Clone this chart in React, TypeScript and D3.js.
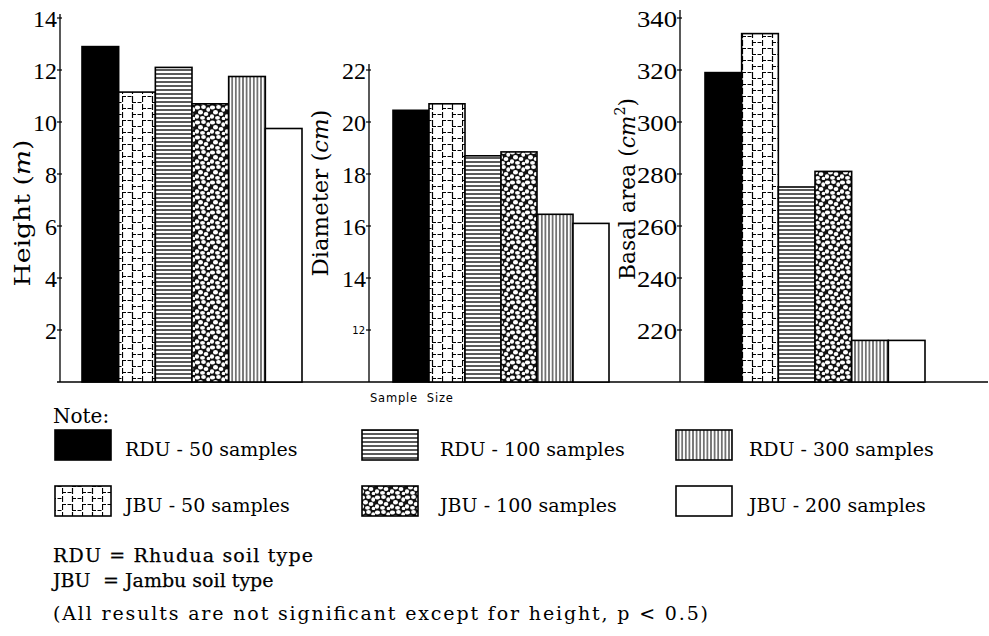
import React from "react";
import * as d3 from "d3";

const categories = [
  "RDU - 50 samples",
  "JBU - 50 samples",
  "RDU - 100 samples",
  "JBU - 100 samples",
  "RDU - 300 samples",
  "JBU - 200 samples",
];
const heightValues = [12.9, 11.15, 12.1, 10.7, 11.75, 9.75];
const diameterValues = [20.45, 20.7, 18.7, 18.85, 16.45, 16.1];
const basalValues = [319, 334, 275, 281, 216, 216];
const heightTicks = [2, 4, 6, 8, 10, 12, 14];
const diameterTicks = [12, 14, 16, 18, 20, 22];
const basalTicks = [220, 240, 260, 280, 300, 320, 340];

const SERIF = "Liberation Serif, serif";
const WIDE = "DejaVu Serif, serif";
const SANS = "DejaVu Sans, sans-serif";

const fills = ["#000", "url(#brick)", "url(#hlines)", "url(#cobble)", "url(#vlines)", "#fff"];

const BASE = 382;

const panels = [
  { values: heightValues, ticks: heightTicks, domain: [0, 14], top: 18, axisX: 60, axisTop: 14, bars: [82, 302], label: ["Height (", "m", ")"], sup: false, labelX: 30, labelY: 213, labelLen: 147, small: [] as number[], tickLen: 0 },
  { values: diameterValues, ticks: diameterTicks, domain: [10, 22], top: 70, axisX: 369, axisTop: 64, bars: [393, 609], label: ["Diameter (", "cm", ")"], sup: false, labelX: 328, labelY: 193, labelLen: 167, small: [12], tickLen: 0 },
  { values: basalValues, ticks: basalTicks, domain: [200, 340], top: 18, axisX: 680, axisTop: 10, bars: [705, 925], label: ["Basal area (", "cm", ")"], sup: true, labelX: 635, labelY: 189, labelLen: 182, small: [] as number[], tickLen: 40 },
];

const cobbleSpots: [number, number, number, number][] = [
  [2.5, 2.5, 2.6, 2.1], [8.5, 2, 2.4, 2.0], [13.2, 4.5, 1.9, 2.2], [5.5, 7.2, 2.5, 2.2],
  [11, 9, 2.4, 2.1], [2, 11.5, 2.1, 2.3], [7.5, 12.8, 2.5, 1.9], [13.5, 13.5, 1.8, 1.7],
];

function Panel({ p }: { p: (typeof panels)[number] }) {
  const y = d3.scaleLinear().domain(p.domain).range([BASE, p.top]);
  const x = d3.scaleBand<string>().domain(categories).range(p.bars as [number, number]).padding(0);
  return (
    <g>
      <line x1={p.axisX} x2={p.axisX} y1={p.axisTop} y2={BASE} stroke="#000" strokeWidth={1.3} />
      {p.ticks.map((t) => (
        <g key={t}>
          <line x1={p.axisX - 3} x2={p.axisX + 2} y1={y(t)} y2={y(t)} stroke="#000" strokeWidth={1.2} />
          {p.small.includes(t) ? (
            <text x={p.axisX - 4} y={y(t)} dy="0.35em" textAnchor="end" fontFamily={SANS} fontSize={10}>{t}</text>
          ) : p.tickLen ? (
            <text x={p.axisX - 3} y={y(t)} dy="0.36em" textAnchor="end" fontFamily={SERIF} fontSize={24}
              textLength={p.tickLen} lengthAdjust="spacingAndGlyphs">{t}</text>
          ) : (
            <text x={p.axisX - 3} y={y(t)} dy="0.36em" textAnchor="end" fontFamily={SERIF} fontSize={24}>{t}</text>
          )}
        </g>
      ))}
      {categories.map((c, i) => (
        <rect key={c} x={x(c)} y={y(p.values[i])} width={x.bandwidth()} height={BASE - y(p.values[i])}
          fill={fills[i]} stroke="#000" strokeWidth={1.6} />
      ))}
      <text transform={`translate(${p.labelX},${p.labelY}) rotate(-90)`} textAnchor="middle" fontFamily={WIDE} fontSize={23}
        textLength={p.labelLen} lengthAdjust="spacingAndGlyphs">
        {p.label[0]}
        <tspan fontStyle="italic">{p.label[1]}</tspan>
        {p.sup ? <tspan fontSize={15} dy={-10}>2</tspan> : null}
        <tspan dy={p.sup ? 10 : 0}>{p.label[2]}</tspan>
      </text>
    </g>
  );
}

const legendColX = [55, 362, 676];
const legendTextX = [125, 440, 749];
const legendRowY = [430, 486];

export default function App() {
  return (
    <svg width={989} height={636} style={{ position: "absolute", left: 0, top: 0, background: "#fff" }}>
      <defs>
        <pattern id="hlines" patternUnits="userSpaceOnUse" width={8} height={4}>
          <rect width={8} height={4} fill="#fff" />
          <line x1={0} x2={8} y1={2} y2={2} stroke="#000" strokeWidth={1.3} />
        </pattern>
        <pattern id="vlines" patternUnits="userSpaceOnUse" width={3.6} height={8}>
          <rect width={3.6} height={8} fill="#fff" />
          <line x1={1.8} x2={1.8} y1={0} y2={8} stroke="#000" strokeWidth={1} />
        </pattern>
        <pattern id="brick" patternUnits="userSpaceOnUse" width={20} height={24} x={2}>
          <rect width={20} height={24} fill="#fff" />
          <line x1={0.5} x2={0.5} y1={0} y2={24} stroke="#000" strokeWidth={1.2} strokeDasharray="6 2" />
          <line x1={10.5} x2={10.5} y1={0} y2={24} stroke="#000" strokeWidth={1.2} strokeDasharray="6 2" />
          <line x1={0} x2={10} y1={0.5} y2={0.5} stroke="#000" strokeWidth={1.1} strokeDasharray="4 1.5" />
          <line x1={0} x2={10} y1={12.5} y2={12.5} stroke="#000" strokeWidth={1.1} strokeDasharray="4 1.5" />
          <line x1={10} x2={20} y1={6.5} y2={6.5} stroke="#000" strokeWidth={1.1} strokeDasharray="4 1.5" />
          <line x1={10} x2={20} y1={18.5} y2={18.5} stroke="#000" strokeWidth={1.1} strokeDasharray="4 1.5" />
        </pattern>
        <pattern id="cobble" patternUnits="userSpaceOnUse" width={15} height={15}>
          <rect width={15} height={15} fill="#111" />
          {cobbleSpots.map((s, i) => (
            <ellipse key={i} cx={s[0]} cy={s[1]} rx={s[2]} ry={s[3]} fill="#fff" />
          ))}
        </pattern>
      </defs>

      <line x1={57} x2={988} y1={BASE} y2={BASE} stroke="#000" strokeWidth={1.5} />
      {panels.map((p, i) => (
        <Panel key={i} p={p} />
      ))}

      <text x={370} y={402} fontFamily={SANS} fontSize={11.5} letterSpacing={0.8} style={{ whiteSpace: "pre" }}>Sample  Size</text>

      <text x={53} y={423} fontFamily={WIDE} fontSize={20}>Note:</text>
      {categories.map((c, i) => {
        const col = Math.floor(i / 2);
        const row = i % 2;
        return (
          <g key={c}>
            <rect x={legendColX[col]} y={legendRowY[row]} width={56} height={30} fill={fills[i]} stroke="#000" strokeWidth={1.6} />
            <text x={legendTextX[col]} y={legendRowY[row] + 26} fontFamily={WIDE} fontSize={19}>{c}</text>
          </g>
        );
      })}

      <text x={53} y={562} fontFamily={WIDE} fontSize={19} stroke="#000" strokeWidth={0.25} textLength={260} lengthAdjust="spacing">RDU = Rhudua soil type</text>
      <text x={53} y={587} fontFamily={WIDE} fontSize={19} stroke="#000" strokeWidth={0.25}>
        JBU<tspan x={103}>= Jambu soil type</tspan>
      </text>
      <text x={53} y={620} fontFamily={WIDE} fontSize={19} textLength={655} lengthAdjust="spacing">(All results are not significant except for height, p &lt; 0.5)</text>
    </svg>
  );
}
